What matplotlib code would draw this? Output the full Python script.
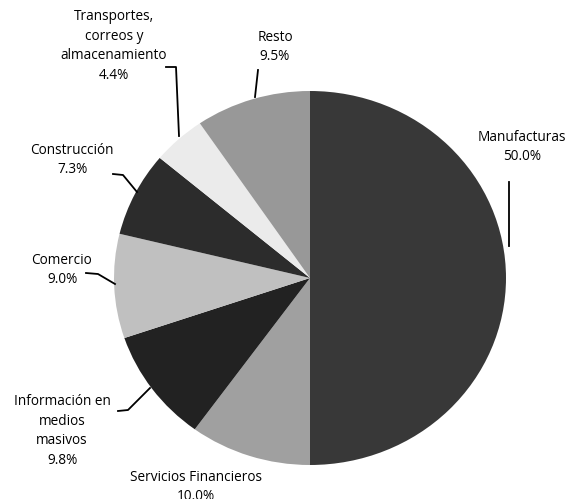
import matplotlib.pyplot as plt

# Shares by sector (%), clockwise from 12 o'clock
sectors = ["Manufacturas", "Servicios Financieros", "Información en medios masivos",
           "Comercio", "Construcción", "Transportes, correos y almacenamiento", "Resto"]
shares = [50.0, 10.0, 9.8, 9.0, 7.3, 4.4, 9.5]
colors = ["#383838", "#a0a0a0", "#222222", "#c0c0c0", "#2c2c2c", "#ebebeb", "#989898"]

# label text as printed, with the label position (px) and leader polyline (px)
labels = [
    ("Manufacturas\n50.0%", (522, 147), [(509, 182), (509, 246)]),
    ("Servicios Financieros\n10.0%", (196, 487), []),
    ("Información en\nmedios\nmasivos\n9.8%", (62, 431), [(118, 411), (128, 410), (150, 388)]),
    ("Comercio\n9.0%", (62, 270), [(86, 273), (98, 274), (115, 284)]),
    ("Construcción\n7.3%", (72, 160), [(113, 174), (123, 175), (137, 192)]),
    ("Transportes,\ncorreos y\nalmacenamiento\n4.4%", (114, 46), [(166, 67), (176, 67), (179, 136)]),
    ("Resto\n9.5%", (275, 47), [(258, 70), (255, 97)]),
]

W, H = 574, 499
CX, CY, RX, RY = 310, 278, 196, 187

fig = plt.figure(figsize=(W / 100, H / 100), dpi=100)
ax = fig.add_axes([0, 0, 1, 1])
ax.pie(shares, colors=colors, startangle=90, counterclock=False,
       wedgeprops=dict(linewidth=0))
ax.set_aspect("auto")
ax.set_xlim(-CX / RX, (W - CX) / RX)
ax.set_ylim(-(H - CY) / RY, CY / RY)
ax.axis("off")

# overlay in pixel coordinates for labels and leaders
ov = fig.add_axes([0, 0, 1, 1])
ov.set_xlim(0, W)
ov.set_ylim(H, 0)
ov.axis("off")
ov.patch.set_alpha(0)

for text, (tx, ty), leader in labels:
    ov.text(tx, ty, text, ha="center", va="center", fontsize=9.8,
            family="Open Sans", linespacing=1.4, color="black")
    if leader:
        xs, ys = zip(*leader)
        ov.plot(xs, ys, color="black", linewidth=1.3)

fig.savefig("out.png", dpi=100)
